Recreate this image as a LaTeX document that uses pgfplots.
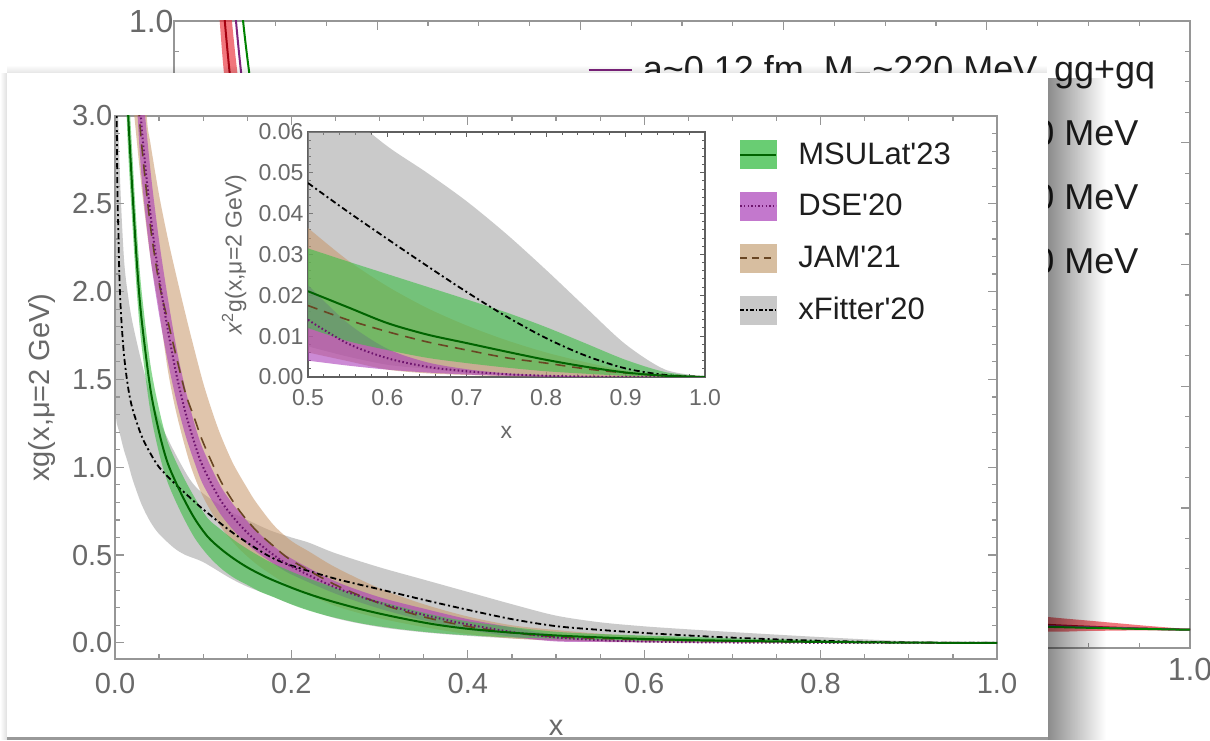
\documentclass[border=0pt]{standalone}
\usepackage{fontspec}
\setmainfont{Liberation Sans}
\usepackage{pgfplots}
\usepackage{pgfplotstable}
\pgfplotsset{compat=1.18}
\usetikzlibrary{fadings}

\definecolor{framegray}{RGB}{150,150,150}
\definecolor{insetframe}{RGB}{95,95,95}
\definecolor{ticktext}{RGB}{105,105,105}
\definecolor{legtext}{RGB}{30,30,30}
\definecolor{mslband}{RGB}{60,190,70}
\definecolor{mslline}{RGB}{0,100,0}
\definecolor{dseband}{RGB}{170,60,185}
\definecolor{dseline}{RGB}{110,20,110}
\definecolor{jamband}{RGB}{200,150,105}
\definecolor{jamline}{RGB}{105,70,35}
\definecolor{xfband}{RGB}{150,150,150}
\definecolor{latred}{RGB}{235,45,55}
\definecolor{latdark}{RGB}{165,0,15}
\definecolor{latpurple}{RGB}{125,35,125}
\definecolor{latgreen}{RGB}{0,130,0}
\definecolor{mslkey}{RGB}{105,205,115}
\definecolor{dsekey}{RGB}{195,120,205}
\definecolor{jamkey}{RGB}{215,190,160}
\definecolor{xfkey}{RGB}{200,200,200}

\tikzfading[name=fadeR, left color=transparent!0, right color=transparent!100]
\tikzfading[name=fadeL, left color=transparent!100, right color=transparent!0]
\tikzfading[name=fadeU, bottom color=transparent!0, top color=transparent!100]

% ===== xg(x, mu=2 GeV): central values =====
\pgfplotstableread{
x y
0.012 3.40
0.015 3.00
0.020 2.55
0.025 2.15
0.030 1.85
0.040 1.45
0.050 1.20
0.060 1.02
0.075 0.85
0.090 0.71
0.105 0.605
0.120 0.535
0.135 0.478
0.150 0.43
0.165 0.39
0.180 0.355
0.210 0.295
0.240 0.245
0.280 0.19
0.320 0.145
0.360 0.107
0.400 0.08
0.450 0.058
0.500 0.042
0.550 0.031
0.600 0.022
0.650 0.016
0.700 0.0118
0.750 0.0082
0.800 0.0052
0.850 0.0029
0.900 0.0012
0.950 0.0003
1.000 0
}\mslC

\pgfplotstableread{
x y
0.025 3.40
0.030 2.95
0.040 2.45
0.050 2.08
0.060 1.78
0.070 1.52
0.080 1.31
0.090 1.14
0.100 1.00
0.120 0.81
0.140 0.68
0.160 0.58
0.180 0.50
0.200 0.435
0.250 0.315
0.300 0.228
0.350 0.16
0.400 0.105
0.450 0.062
0.500 0.031
0.550 0.0155
0.600 0.0078
0.650 0.0039
0.700 0.002
0.750 0.00093
0.800 0.00038
0.850 0.00012
0.900 0.00003
1.000 0
}\dseC

\pgfplotstableread{
x y
0.012 5.00
0.015 4.40
0.020 3.70
0.025 3.20
0.030 2.85
0.040 2.38
0.050 2.05
0.060 1.83
0.070 1.62
0.080 1.42
0.090 1.28
0.100 1.14
0.120 0.92
0.140 0.76
0.160 0.64
0.180 0.55
0.200 0.47
0.250 0.33
0.300 0.225
0.350 0.148
0.400 0.094
0.450 0.057
0.500 0.035
0.550 0.0255
0.600 0.0185
0.650 0.0133
0.700 0.0094
0.750 0.0063
0.800 0.0042
0.850 0.0024
0.900 0.0011
0.950 0.0003
1.000 0
}\jamC

\pgfplotstableread{
x y
0.000 6.00
0.002 3.00
0.004 2.30
0.006 1.95
0.010 1.65
0.015 1.45
0.020 1.33
0.030 1.18
0.040 1.08
0.050 1.00
0.067 0.91
0.080 0.85
0.100 0.76
0.130 0.64
0.150 0.57
0.176 0.49
0.200 0.44
0.250 0.365
0.300 0.305
0.350 0.245
0.400 0.188
0.450 0.135
0.500 0.095
0.550 0.0736
0.600 0.0563
0.650 0.0418
0.700 0.0297
0.750 0.0197
0.800 0.0119
0.850 0.0061
0.900 0.0023
0.950 0.0005
1.000 0
}\xfC

% ===== xg(x): uncertainty bands (upper edge, then lower edge backwards) =====
\pgfplotstableread{
x y
0.012 3.64
0.015 3.22
0.020 2.75
0.025 2.33
0.030 2.01
0.040 1.59
0.050 1.33
0.060 1.14
0.075 0.97
0.090 0.83
0.105 0.71
0.120 0.645
0.135 0.585
0.150 0.535
0.165 0.49
0.180 0.45
0.210 0.385
0.240 0.33
0.280 0.265
0.320 0.21
0.360 0.16
0.400 0.122
0.450 0.09
0.500 0.063
0.550 0.050
0.600 0.0417
0.650 0.0346
0.700 0.026
0.750 0.021
0.800 0.015
0.850 0.0092
0.900 0.0042
0.950 0.001
1.000 0
0.950 0.0001
0.900 0.0003
0.850 0.0009
0.800 0.0018
0.750 0.0031
0.700 0.0049
0.650 0.0072
0.600 0.011
0.550 0.016
0.500 0.024
0.450 0.031
0.400 0.043
0.360 0.058
0.320 0.08
0.280 0.11
0.240 0.155
0.210 0.20
0.180 0.26
0.165 0.29
0.150 0.33
0.135 0.37
0.120 0.425
0.105 0.50
0.090 0.60
0.075 0.74
0.060 0.91
0.050 1.08
0.040 1.32
0.030 1.70
0.025 1.98
0.020 2.36
0.015 2.79
0.012 3.16
}\mslB

\pgfplotstableread{
x y
0.025 3.74
0.030 3.25
0.040 2.70
0.050 2.29
0.060 1.96
0.070 1.67
0.080 1.44
0.090 1.25
0.100 1.10
0.120 0.89
0.140 0.75
0.160 0.64
0.180 0.55
0.200 0.48
0.250 0.35
0.300 0.26
0.350 0.195
0.400 0.135
0.450 0.088
0.500 0.045
0.550 0.024
0.600 0.0115
0.650 0.0056
0.700 0.0028
0.750 0.0012
0.800 0.0005
0.850 0.00015
0.900 0.00004
1.000 0
0.900 0
0.850 0.00003
0.800 0.00013
0.750 0.0004
0.700 0.00086
0.650 0.0017
0.600 0.003
0.550 0.0051
0.500 0.008
0.450 0.035
0.400 0.075
0.350 0.128
0.300 0.195
0.250 0.28
0.200 0.39
0.180 0.45
0.160 0.52
0.140 0.61
0.120 0.73
0.100 0.90
0.090 1.03
0.080 1.18
0.070 1.37
0.060 1.60
0.050 1.87
0.040 2.20
0.030 2.66
0.025 3.06
}\dseB

\pgfplotstableread{
x y
0.012 7.00
0.020 5.00
0.030 3.60
0.036 3.00
0.040 2.85
0.050 2.55
0.060 2.30
0.070 2.08
0.080 1.87
0.090 1.67
0.100 1.48
0.110 1.32
0.120 1.18
0.134 1.02
0.150 0.88
0.160 0.80
0.180 0.67
0.200 0.58
0.220 0.52
0.250 0.43
0.300 0.31
0.350 0.22
0.400 0.15
0.450 0.10
0.500 0.073
0.550 0.052
0.600 0.037
0.650 0.026
0.700 0.018
0.750 0.012
0.800 0.0075
0.850 0.0042
0.900 0.0018
0.950 0.0004
1.000 0
0.950 0
0.900 0
0.850 0
0.800 0.0001
0.750 0.0003
0.700 0.0007
0.650 0.0014
0.600 0.003
0.550 0.007
0.500 0.012
0.450 0.025
0.400 0.05
0.350 0.09
0.300 0.14
0.250 0.21
0.200 0.32
0.180 0.38
0.160 0.45
0.140 0.54
0.120 0.66
0.100 0.83
0.085 1.02
0.070 1.30
0.060 1.55
0.050 1.90
0.040 2.20
0.030 2.60
0.020 3.10
}\jamB

\pgfplotstableread{
x y
0.000 6.50
0.002 3.60
0.005 2.75
0.010 2.20
0.015 1.97
0.020 1.82
0.030 1.60
0.040 1.42
0.050 1.27
0.066 1.10
0.085 0.93
0.100 0.85
0.130 0.75
0.150 0.70
0.176 0.64
0.200 0.60
0.220 0.57
0.250 0.51
0.300 0.43
0.350 0.36
0.400 0.29
0.450 0.22
0.500 0.155
0.550 0.117
0.600 0.094
0.650 0.077
0.700 0.0614
0.750 0.0467
0.800 0.0328
0.850 0.020
0.900 0.0089
0.950 0.0019
1.000 0
0.950 0
0.900 0
0.850 0.0001
0.800 0.0003
0.750 0.0008
0.700 0.0015
0.650 0.003
0.600 0.005
0.550 0.009
0.500 0.015
0.450 0.025
0.400 0.04
0.350 0.06
0.300 0.09
0.250 0.14
0.200 0.22
0.176 0.27
0.150 0.32
0.130 0.37
0.100 0.46
0.080 0.50
0.067 0.54
0.050 0.62
0.040 0.69
0.030 0.79
0.020 0.93
0.015 1.02
0.010 1.10
0.005 1.20
0.002 1.25
0.000 1.35
}\xfB

% ===== x^2 g(x) at large x: central values =====
\pgfplotstableread{
x y
0.50 0.0210
0.55 0.0171
0.60 0.0132
0.65 0.0104
0.70 0.0083
0.75 0.0062
0.80 0.0042
0.85 0.0025
0.90 0.0011
0.95 0.0003
1.00 0
}\mslCin

\pgfplotstableread{
x y
0.50 0.0140
0.55 0.0082
0.60 0.0046
0.65 0.0025
0.70 0.0014
0.75 0.0007
0.80 0.0003
0.85 0.0001
0.90 0.00003
1.00 0
}\dseCin

\pgfplotstableread{
x y
0.50 0.0175
0.55 0.0140
0.60 0.0111
0.65 0.0086
0.70 0.0066
0.75 0.0047
0.80 0.0034
0.85 0.0020
0.90 0.0010
0.95 0.0003
1.00 0
}\jamCin

\pgfplotstableread{
x y
0.50 0.0475
0.55 0.0405
0.60 0.0338
0.65 0.0272
0.70 0.0208
0.75 0.0148
0.80 0.0095
0.85 0.0052
0.90 0.0021
0.95 0.0005
1.00 0
}\xfCin

% ===== x^2 g(x) at large x: bands =====
\pgfplotstableread{
x y
0.50 0.0315
0.55 0.0283
0.60 0.0252
0.65 0.0221
0.70 0.0190
0.75 0.0158
0.80 0.0122
0.85 0.0082
0.90 0.0042
0.95 0.0012
1.00 0
0.95 0.0001
0.90 0.0003
0.85 0.0008
0.80 0.0014
0.75 0.0023
0.70 0.0034
0.65 0.0047
0.60 0.0066
0.55 0.0088
0.50 0.0120
}\mslBin

\pgfplotstableread{
x y
0.50 0.0225
0.55 0.0132
0.60 0.0069
0.65 0.0036
0.70 0.0019
0.75 0.0009
0.80 0.0004
0.85 0.00013
0.90 0.00004
1.00 0
0.90 0
0.85 0
0.80 0.0001
0.75 0.0003
0.70 0.0006
0.65 0.0011
0.60 0.0018
0.55 0.0028
0.50 0.0040
}\dseBin

\pgfplotstableread{
x y
0.50 0.0365
0.55 0.0286
0.60 0.0222
0.65 0.0169
0.70 0.0126
0.75 0.0090
0.80 0.0060
0.85 0.0036
0.90 0.0016
0.95 0.0004
1.00 0
0.95 0
0.90 0
0.85 0
0.80 0.0001
0.75 0.0002
0.70 0.0005
0.65 0.0009
0.60 0.0018
0.55 0.0039
0.50 0.0060
}\jamBin

\pgfplotstableread{
x y
0.50 0.0740
0.55 0.0645
0.60 0.0565
0.65 0.0500
0.70 0.0430
0.75 0.0350
0.80 0.0262
0.85 0.0170
0.90 0.0080
0.95 0.0018
1.00 0
0.95 0
0.90 0
0.85 0.0001
0.80 0.0002
0.75 0.0006
0.70 0.0010
0.65 0.0020
0.60 0.0030
0.55 0.0050
0.50 0.0075
}\xfBin

% ===== lattice panel behind =====
\pgfplotstableread{
x y
0.030 1.90
0.035 1.62
0.045 1.27
0.050 1.14
0.057 1.00
0.065 0.88
0.080 0.71
0.100 0.57
0.150 0.38
0.200 0.28
0.300 0.18
0.400 0.12
0.500 0.085
0.600 0.06
0.700 0.045
0.800 0.032
0.860 0.021
0.900 0.015
0.950 0.0075
1.000 0
0.950 -0.001
0.900 -0.002
0.860 -0.003
0.800 0.004
0.700 0.012
0.600 0.025
0.500 0.04
0.400 0.07
0.300 0.11
0.200 0.19
0.150 0.27
0.100 0.43
0.080 0.55
0.065 0.70
0.057 0.80
0.050 0.90
0.045 1.00
0.035 1.25
0.030 1.50
}\latB

\pgfplotstableread{
x y
0.030 1.70
0.035 1.45
0.045 1.12
0.050 1.00
0.057 0.88
0.065 0.78
0.080 0.62
0.100 0.50
0.150 0.32
0.200 0.23
0.300 0.14
0.400 0.09
0.500 0.06
0.600 0.04
0.700 0.025
0.800 0.013
0.860 0.008
0.900 0.005
0.950 0.002
1.000 0
}\latC

\pgfplotstableread{
x y
0.047 1.30
0.061 1.00
0.073 0.83
0.100 0.60
0.200 0.27
0.400 0.09
0.600 0.035
0.800 0.010
1.000 0
}\latpur

\pgfplotstableread{
x y
0.053 1.30
0.068 1.00
0.084 0.80
0.100 0.67
0.200 0.31
0.400 0.10
0.600 0.030
0.800 0.008
1.000 0
}\latgrn

\begin{document}
\begin{tikzpicture}
\fill[white] (0pt,0pt) rectangle (605pt,370pt);

% ===== lattice results (panel behind) =====
\begin{axis}[
  at={(87pt,46pt)}, anchor=south west, scale only axis,
  width=508pt, height=313.5pt,
  xmin=0, xmax=1, ymin=-0.03, ymax=1.0,
  xtick={0,0.2,0.4,0.6,0.8,1}, ytick={0,0.2,0.4,0.6,0.8,1},
  minor x tick num=3, minor y tick num=3,
  scaled ticks=false, tick align=inside,
  major tick length=4.5pt, minor tick length=2.5pt,
  axis line style={framegray, line width=0.8pt},
  tick style={framegray, line width=0.6pt},
  /pgf/number format/assume math mode=true,
  tick label style={font=\fontsize{16}{18}\selectfont, text=ticktext},
  xticklabel style={/pgf/number format/.cd, fixed, fixed zerofill, precision=1, /tikz/.cd, yshift=-1.5pt},
  yticklabel style={/pgf/number format/.cd, fixed, fixed zerofill, precision=1, /tikz/.cd, xshift=3.3pt},
  legend style={at={(axis description cs:0.4065,0.952)}, anchor=north west,
    draw=none, fill=none, inner sep=0pt,
    font=\fontsize{18}{20}\selectfont, text=legtext,
    row sep=13.5pt, column sep=3pt},
  legend cell align=left,
]
\addplot[fill=latred, fill opacity=0.65, draw=none, smooth, forget plot] table {\latB};
\addplot[latdark, line width=1pt, smooth, forget plot] table {\latC};
\addplot[latpurple, line width=1pt, smooth, forget plot] table {\latpur};
\addplot[latgreen, line width=1pt, smooth, forget plot] table {\latgrn};

\addlegendimage{legend image code/.code={\draw[latpurple, line width=1.2pt] (0pt,0pt) -- (21.5pt,0pt);}}
\addlegendentry{a\textasciitilde 0.12 fm, M\textsubscript{π}\textasciitilde 220 MeV, gg+gq}
\addlegendimage{legend image code/.code={\draw[latdark, line width=1.2pt] (0pt,0pt) -- (21.5pt,0pt);}}
\addlegendentry{a\textasciitilde 0.15 fm gg+gq M\textsubscript{π}\textasciitilde 310 MeV}
\addlegendimage{legend image code/.code={\draw[latgreen, line width=1.2pt] (0pt,0pt) -- (21.5pt,0pt);}}
\addlegendentry{a\textasciitilde 0.12 fm gg+gq M\textsubscript{π}\textasciitilde 310 MeV}
\addlegendimage{legend image code/.code={\draw[black, line width=1.2pt] (0pt,0pt) -- (21.5pt,0pt);}}
\addlegendentry{a\textasciitilde 0.09 fm gg+gq M\textsubscript{π}\textasciitilde 310 MeV}
\end{axis}

% ===== shadow and card of the front panel =====
\fill[black, path fading=fadeR, fill opacity=0.45] (524pt,0pt) rectangle (553pt,331pt);
\fill[black, path fading=fadeU, fill opacity=0.10] (3.5pt,333.5pt) rectangle (524pt,337.5pt);
\fill[black, path fading=fadeL, fill opacity=0.12] (0pt,0pt) rectangle (3.5pt,333.5pt);
\fill[black, fill opacity=0.40] (3.5pt,0pt) rectangle (524pt,1.5pt);
\fill[white] (3.5pt,1.5pt) rectangle (524pt,333.5pt);

% ===== pion gluon PDF comparison =====
\begin{axis}[
  at={(57.5pt,40.5pt)}, anchor=south west, scale only axis,
  width=441pt, height=271.5pt,
  xmin=0, xmax=1, ymin=-0.092, ymax=3.0,
  xtick={0,0.2,0.4,0.6,0.8,1}, ytick={0,0.5,1,1.5,2,2.5,3},
  minor x tick num=3, minor y tick num=4,
  scaled ticks=false, tick align=inside,
  major tick length=4.5pt, minor tick length=2.5pt,
  axis line style={framegray, line width=0.7pt},
  tick style={framegray, line width=0.6pt},
  /pgf/number format/assume math mode=true,
  tick label style={font=\fontsize{14.5}{16}\selectfont, text=ticktext},
  xticklabel style={/pgf/number format/.cd, fixed, fixed zerofill, precision=1, /tikz/.cd, yshift=-3.5pt},
  yticklabel style={/pgf/number format/.cd, fixed, fixed zerofill, precision=1, /tikz/.cd, xshift=2.2pt},
  xlabel={x}, ylabel={xg(x,μ=2 GeV)},
  label style={font=\fontsize{14.5}{16}\selectfont, text=ticktext},
  xlabel style={at={(axis description cs:0.5,-0.127)}, anchor=center},
  ylabel style={at={(axis description cs:-0.083,0.5)}, anchor=center},
  legend style={at={(axis description cs:0.7075,0.9595)}, anchor=north west,
    draw=none, fill=none, inner sep=0pt,
    font=\fontsize{15.5}{17}\selectfont, text=legtext,
    row sep=9.5pt, column sep=8.5pt},
  legend cell align=left,
]
\addplot[fill=xfband, fill opacity=0.5, draw=none, smooth, forget plot] table {\xfB};
\addplot[fill=jamband, fill opacity=0.55, draw=none, smooth, forget plot] table {\jamB};
\addplot[fill=dseband, fill opacity=0.6, draw=none, smooth, forget plot] table {\dseB};
\addplot[fill=mslband, fill opacity=0.6, draw=none, smooth, forget plot] table {\mslB};

\addplot[black, line width=0.9pt, dash pattern=on 3pt off 1.5pt on 1pt off 1.5pt, smooth, forget plot] table {\xfC};
\addplot[jamline, line width=0.8pt, dash pattern=on 6pt off 4pt, smooth, forget plot] table {\jamC};
\addplot[dseline, line width=1pt, dash pattern=on 0.8pt off 1.2pt, smooth, forget plot] table {\dseC};
\addplot[mslline, line width=1pt, smooth, forget plot] table {\mslC};

\addlegendimage{legend image code/.code={\fill[mslkey] (0pt,-7pt) rectangle (18pt,7pt); \draw[mslline, line width=1pt] (0pt,0pt) -- (18pt,0pt);}}
\addlegendentry{MSULat\textquotesingle 23}
\addlegendimage{legend image code/.code={\fill[dsekey] (0pt,-7pt) rectangle (18pt,7pt); \draw[dseline, line width=0.9pt, dash pattern=on 0.7pt off 1.1pt] (0pt,0pt) -- (18pt,0pt);}}
\addlegendentry{DSE\textquotesingle 20}
\addlegendimage{legend image code/.code={\fill[jamkey] (0pt,-7pt) rectangle (18pt,7pt); \draw[jamline, line width=0.8pt, dash pattern=on 3.5pt off 2.5pt] (0pt,0pt) -- (18pt,0pt);}}
\addlegendentry{JAM\textquotesingle 21}
\addlegendimage{legend image code/.code={\fill[xfkey] (0pt,-7pt) rectangle (18pt,7pt); \draw[black, line width=0.8pt, dash pattern=on 2pt off 1pt on 0.7pt off 1pt] (0pt,0pt) -- (18pt,0pt);}}
\addlegendentry{xFitter\textquotesingle 20}
\end{axis}

% ===== large-x inset, x^2 g(x) =====
\begin{axis}[
  at={(154pt,181.5pt)}, anchor=south west, scale only axis,
  width=198.5pt, height=122.5pt,
  xmin=0.5, xmax=1, ymin=0, ymax=0.06,
  axis background/.style={fill=white},
  xtick={0.5,0.6,0.7,0.8,0.9,1}, ytick={0,0.01,0.02,0.03,0.04,0.05,0.06},
  minor x tick num=4, minor y tick num=4,
  scaled ticks=false, tick align=inside,
  major tick length=2.5pt, minor tick length=1.3pt,
  axis line style={insetframe, line width=0.8pt},
  tick style={insetframe, line width=0.5pt},
  /pgf/number format/assume math mode=true,
  tick label style={font=\fontsize{11.5}{13}\selectfont, text=ticktext},
  xticklabel style={/pgf/number format/.cd, fixed, fixed zerofill, precision=1, /tikz/.cd, yshift=-2.5pt},
  yticklabel style={/pgf/number format/.cd, fixed, fixed zerofill, precision=2, /tikz/.cd, xshift=1.2pt},
  xlabel={x}, ylabel={\textit{x}\textsuperscript{2}g(x,μ=2 GeV)},
  label style={font=\fontsize{11.5}{13}\selectfont, text=ticktext},
  xlabel style={at={(axis description cs:0.5,-0.2245)}, anchor=center},
  ylabel style={at={(axis description cs:-0.186,0.5)}, anchor=center},
]
\addplot[fill=xfband, fill opacity=0.5, draw=none, smooth, forget plot] table {\xfBin};
\addplot[fill=jamband, fill opacity=0.55, draw=none, smooth, forget plot] table {\jamBin};
\addplot[fill=dseband, fill opacity=0.6, draw=none, smooth, forget plot] table {\dseBin};
\addplot[fill=mslband, fill opacity=0.6, draw=none, smooth, forget plot] table {\mslBin};

\addplot[black, line width=0.9pt, dash pattern=on 3pt off 1.5pt on 1pt off 1.5pt, smooth, forget plot] table {\xfCin};
\addplot[jamline, line width=0.8pt, dash pattern=on 5pt off 3.5pt, smooth, forget plot] table {\jamCin};
\addplot[dseline, line width=1pt, dash pattern=on 0.8pt off 1.2pt, smooth, forget plot] table {\dseCin};
\addplot[mslline, line width=1pt, smooth, forget plot] table {\mslCin};
\end{axis}

\pgfresetboundingbox
\path[use as bounding box] (0pt,0pt) rectangle (605pt,370pt);
\end{tikzpicture}
\end{document}
